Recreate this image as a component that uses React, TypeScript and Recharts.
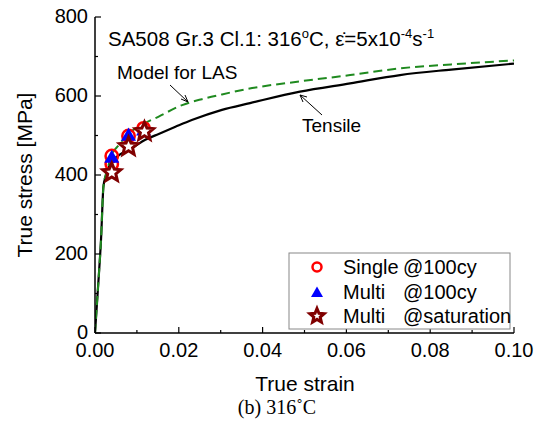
import React from 'react';
import {ComposedChart, Line, Scatter, XAxis, YAxis} from 'recharts';

// tensile curve (black solid)
const tensileStrain = [0, 0.0005, 0.001, 0.0015, 0.0018, 0.002, 0.0025, 0.003, 0.004, 0.006, 0.0088, 0.012, 0.0152, 0.0192, 0.0231, 0.0303, 0.037, 0.0489, 0.0609, 0.0728, 0.085, 0.1];
const tensileStress = [0, 80, 160, 250, 330, 370, 395, 412, 434, 452, 468, 489, 504, 522, 539, 565, 582, 611, 632, 653, 667, 682];

// model for LAS (green dashed)
const modelStrain = [0, 0.0005, 0.001, 0.0015, 0.0018, 0.002, 0.0025, 0.0029, 0.004, 0.0057, 0.0076, 0.0112, 0.0152, 0.0208, 0.0255, 0.0303, 0.0375, 0.0489, 0.0609, 0.0728, 0.085, 0.1];
const modelStress = [0, 80, 160, 250, 330, 370, 398, 413, 451, 476, 501, 527, 548, 577, 592, 604, 620, 637, 653, 670, 680, 690];

// cyclic points
const singleStrain = [0.004, 0.004, 0.008, 0.0116];
const singleStress = [448, 428, 499, 518];
const multiStrain = [0.004, 0.008, 0.0116];
const multiStress = [445, 501, 514];
const satStrain = [0.004, 0.008, 0.0118];
const satStress = [406, 472, 510];

const xTicks = [0, 0.01, 0.02, 0.03, 0.04, 0.05, 0.06, 0.07, 0.08, 0.09, 0.1];
const yTicks = [0, 100, 200, 300, 400, 500, 600, 700, 800];

const zip = (xs: number[], ys: number[]) => xs.map((x, i) => ({x, y: ys[i]}));

const tensile = zip(tensileStrain, tensileStress);
const model = zip(modelStrain, modelStress);
const single = zip(singleStrain, singleStress);
const multi = zip(multiStrain, multiStress);
const sat = zip(satStrain, satStress);

const FONT = 'Liberation Sans, Arial, sans-serif';

const XTick = (props: any) => {
    const {x, y, payload} = props;
    const v = payload.value;
    const major = Math.round(v * 100) % 2 === 0;
    return (
        <g>
            <line x1={x} x2={x} y1={y} y2={y - (major ? 6 : 3)} stroke="#000" strokeWidth={1.2} />
            {major && <text x={x} y={y + 24} textAnchor="middle" fontSize={20} fontFamily={FONT} fill="#000">{v.toFixed(2)}</text>}
        </g>
    );
};

const YTick = (props: any) => {
    const {x, y, payload} = props;
    const v = payload.value;
    const major = v % 200 === 0;
    return (
        <g>
            <line x1={x} x2={x + (major ? 6 : 3)} y1={y} y2={y} stroke="#000" strokeWidth={1.2} />
            {major && <text x={x - 7} y={y + 6} textAnchor="end" fontSize={20} fontFamily={FONT} fill="#000">{v}</text>}
        </g>
    );
};

const starPath = (cx: number, cy: number, R: number) => {
    const r = R * 0.45;
    let d = '';
    for (let i = 0; i < 10; i++) {
        const rad = i % 2 === 0 ? R : r;
        const a = -Math.PI / 2 + (i * Math.PI) / 5;
        d += (i === 0 ? 'M' : 'L') + (cx + rad * Math.cos(a)).toFixed(2) + ',' + (cy + rad * Math.sin(a)).toFixed(2);
    }
    return d + 'Z';
};

const Circle = ({cx, cy, r = 6.2}: any) => <circle cx={cx} cy={cy} r={r} fill="none" stroke="#ff0000" strokeWidth={2.5} />;
const Tri = ({cx, cy, s = 7.5}: any) => (
    <path d={`M${cx},${cy - s}L${cx + s},${cy + s * 0.75}L${cx - s},${cy + s * 0.75}Z`} fill="#0000ff" />
);
const Star = ({cx, cy, R = 9.5}: any) => (
    <path d={starPath(cx, cy, R)} fill="#fff" stroke="#800000" strokeWidth={3} strokeLinejoin="miter" />
);

const legendRows = [
    {name: 'Single', tag: '@100cy', mark: (x: number, y: number) => <Circle cx={x} cy={y} r={4.5} />},
    {name: 'Multi', tag: '@100cy', mark: (x: number, y: number) => <Tri cx={x} cy={y + 1} s={6} />},
    {name: 'Multi', tag: '@saturation', mark: (x: number, y: number) => <Star cx={x} cy={y} R={7.5} />},
];

export default function App() {
    return (
        <div style={{position: 'absolute', left: 0, top: 0, width: 545, height: 429, background: '#fff'}}>
            <ComposedChart width={545} height={429} margin={{top: 17, right: 31, left: 0, bottom: 0}}>
                <XAxis xAxisId="b" type="number" dataKey="x" domain={[0, 0.1]} ticks={xTicks} interval={0}
                       height={96} tickSize={0} tickMargin={0} tickLine={false} tick={<XTick />}
                       axisLine={{stroke: '#000', strokeWidth: 1.5}} allowDataOverflow />
                <XAxis xAxisId="t" orientation="top" type="number" domain={[0, 0.1]} height={0} tick={false}
                       tickLine={false} axisLine={{stroke: '#000', strokeWidth: 1.5}} />
                <YAxis yAxisId="l" type="number" dataKey="y" domain={[0, 800]} ticks={yTicks} interval={0}
                       width={95} tickSize={0} tickMargin={0} tickLine={false} tick={<YTick />}
                       axisLine={{stroke: '#000', strokeWidth: 1.5}} allowDataOverflow />
                <YAxis yAxisId="r" orientation="right" type="number" domain={[0, 800]} width={0} tick={false}
                       tickLine={false} axisLine={{stroke: '#000', strokeWidth: 1.5}} />
                <Line xAxisId="b" yAxisId="l" data={tensile} dataKey="y" type="monotone" stroke="#000"
                      strokeWidth={2.2} dot={false} isAnimationActive={false} />
                <Line xAxisId="b" yAxisId="l" data={model} dataKey="y" type="monotone" stroke="#1f8a1f"
                      strokeWidth={2} strokeDasharray="9 5" dot={false} isAnimationActive={false} />
                <Scatter xAxisId="b" yAxisId="l" data={single} dataKey="y" shape={<Circle />} isAnimationActive={false} />
                <Scatter xAxisId="b" yAxisId="l" data={multi} dataKey="y" shape={<Tri />} isAnimationActive={false} />
                <Scatter xAxisId="b" yAxisId="l" data={sat} dataKey="y" shape={<Star />} isAnimationActive={false} />
            </ComposedChart>
            <svg width={545} height={429} style={{position: 'absolute', left: 0, top: 0, pointerEvents: 'none'}}
                 fontFamily={FONT} fill="#000">
                <text x={108} y={46} fontSize={20.5}>
                    SA508 Gr.3 Cl.1: 316<tspan fontSize={13} dy={-8}>o</tspan><tspan dy={8}>C, {'\u03b5\u0307'}=5x10</tspan>
                    <tspan fontSize={13} dy={-8}>-4</tspan><tspan dy={8}>s</tspan><tspan fontSize={13} dy={-8}>-1</tspan>
                </text>
                <text x={117} y={79} fontSize={19}>Model for LAS</text>
                <line x1={170} y1={85} x2={188} y2={102} stroke="#000" strokeWidth={1} />
                <polyline points="181,99 188,102 185,95" fill="none" stroke="#000" strokeWidth={1} />
                <text x={302} y={132} fontSize={19}>Tensile</text>
                <line x1={322} y1={115} x2={300} y2={95} stroke="#000" strokeWidth={1} />
                <polyline points="303,102 300,95 307,97" fill="none" stroke="#000" strokeWidth={1} />

                <rect x={289} y={253} width={221} height={76} fill="#fff" stroke="#888" strokeWidth={1} />
                {legendRows.map((r, i) => {
                    const cy = 267 + i * 24.5;
                    return (
                        <g key={i}>
                            {r.mark(317, cy)}
                            <text x={343} y={cy + 7} fontSize={20}>{r.name}</text>
                            <text x={403} y={cy + 7} fontSize={20}>{r.tag}</text>
                        </g>
                    );
                })}

                <text x={32} y={175} fontSize={21} textAnchor="middle" transform="rotate(-90, 32, 175)">True stress [MPa]</text>
                <text x={305} y={391} fontSize={21} textAnchor="middle">True strain</text>
                <text x={277} y={414} fontSize={20} textAnchor="middle" fontFamily="Liberation Serif, Times New Roman, serif">(b)  316{'\u02da'}C</text>
            </svg>
        </div>
    );
}
